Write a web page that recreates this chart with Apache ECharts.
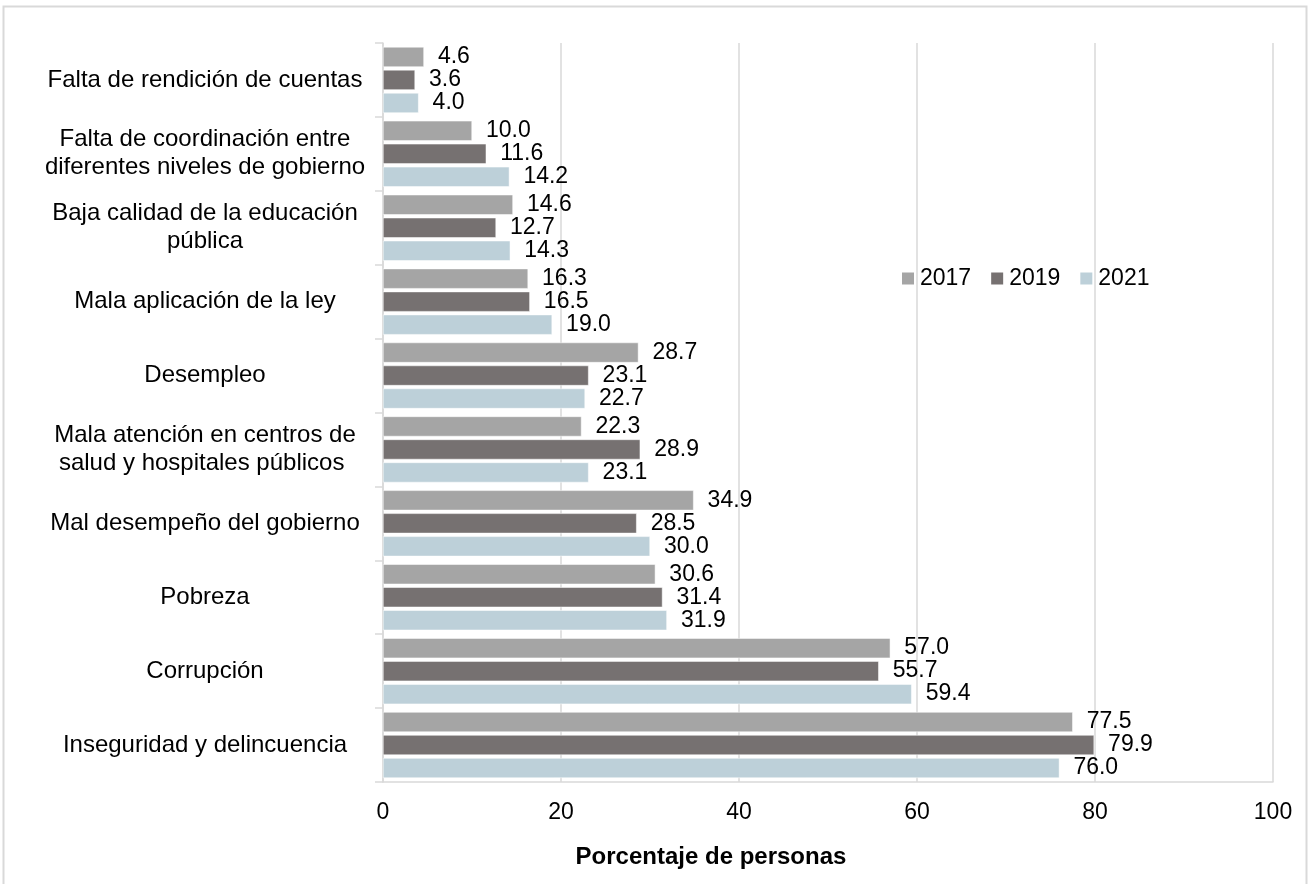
<!DOCTYPE html>
<html><head><meta charset="utf-8">
<script src="https://cdn.jsdelivr.net/npm/echarts@6/dist/echarts.min.js"></script>
<style>html,body{margin:0;padding:0;background:#fff}#c{width:1310px;height:884px}</style>
</head><body><div id="c"></div>
<script>
const categories = [
  "Falta de rendición de cuentas",
  "Falta de coordinación entre\ndiferentes niveles de gobierno",
  "Baja calidad de la educación\npública",
  "Mala aplicación de la ley",
  "Desempleo",
  "Mala atención en centros de\nsalud y hospitales públicos ",
  "Mal desempeño del gobierno",
  "Pobreza",
  "Corrupción",
  "Inseguridad y delincuencia"
];
const seriesNames = ["2017", "2019", "2021"];
const values2017 = [4.6, 10.0, 14.6, 16.3, 28.7, 22.3, 34.9, 30.6, 57.0, 77.5];
const values2019 = [3.6, 11.6, 12.7, 16.5, 23.1, 28.9, 28.5, 31.4, 55.7, 79.9];
const values2021 = [4.0, 14.2, 14.3, 19.0, 22.7, 23.1, 30.0, 31.9, 59.4, 76.0];
const xTicks = [0, 20, 40, 60, 80, 100];
const colors = ["#A5A5A5", "#767171", "#BDD0D9"];

const font = "Liberation Sans, Arial, sans-serif";
const chart = echarts.init(document.getElementById('c'), null, {renderer: 'canvas'});
const allValues = [values2017, values2019, values2021];
chart.setOption({
  animation: false,
  textStyle: {fontFamily: font},
  graphic: [{
    type: 'rect', shape: {x: 3.5, y: 6.5, width: 1303, height: 900},
    style: {fill: 'none', stroke: '#D9D9D9', lineWidth: 2}, silent: true
  }],
  legend: {
    data: seriesNames, left: 897, top: 262, itemWidth: 12, itemHeight: 12, itemGap: 20,
    icon: 'rect',
    itemStyle: {borderWidth: 0},
    textStyle: {fontSize: 23, color: '#000', fontFamily: font, padding: [0, 0, 0, 1]}
  },
  grid: {left: 383, right: 37, top: 43, bottom: 102, containLabel: false},
  xAxis: {
    type: 'value', min: xTicks[0], max: xTicks[xTicks.length - 1], interval: 20,
    name: 'Porcentaje de personas', nameLocation: 'middle', nameGap: 63,
    nameTextStyle: {fontSize: 24, fontWeight: 'bold', color: '#000', fontFamily: font, padding: [0, 0, 0, -234]},
    axisLine: {show: true, lineStyle: {color: '#D9D9D9', width: 1.5}},
    axisTick: {show: false},
    axisLabel: {fontSize: 23, color: '#000', margin: 19, fontFamily: font},
    splitLine: {show: true, lineStyle: {color: '#D9D9D9', width: 1.5}}
  },
  yAxis: {
    type: 'category', data: categories, inverse: true,
    axisLine: {show: true, lineStyle: {color: '#D9D9D9', width: 1.5}},
    axisTick: {show: true, length: 8, lineStyle: {color: '#D9D9D9', width: 1.5}},
    axisLabel: {fontSize: 24, color: '#000', margin: 178, lineHeight: 28, align: 'center',
      fontFamily: font},
    splitLine: {show: false}
  },
  series: seriesNames.map((n, i) => ({
    name: n, type: 'bar', data: allValues[i],
    barWidth: 20, barGap: '15%', barCategoryGap: '11%',
    itemStyle: {color: colors[i], borderColor: '#fff', borderWidth: 0.5},
    label: {show: true, position: 'right', distance: 14, fontSize: 23, color: '#000', fontFamily: font,
      formatter: p => p.value.toFixed(1)}
  }))
});
</script></body></html>
